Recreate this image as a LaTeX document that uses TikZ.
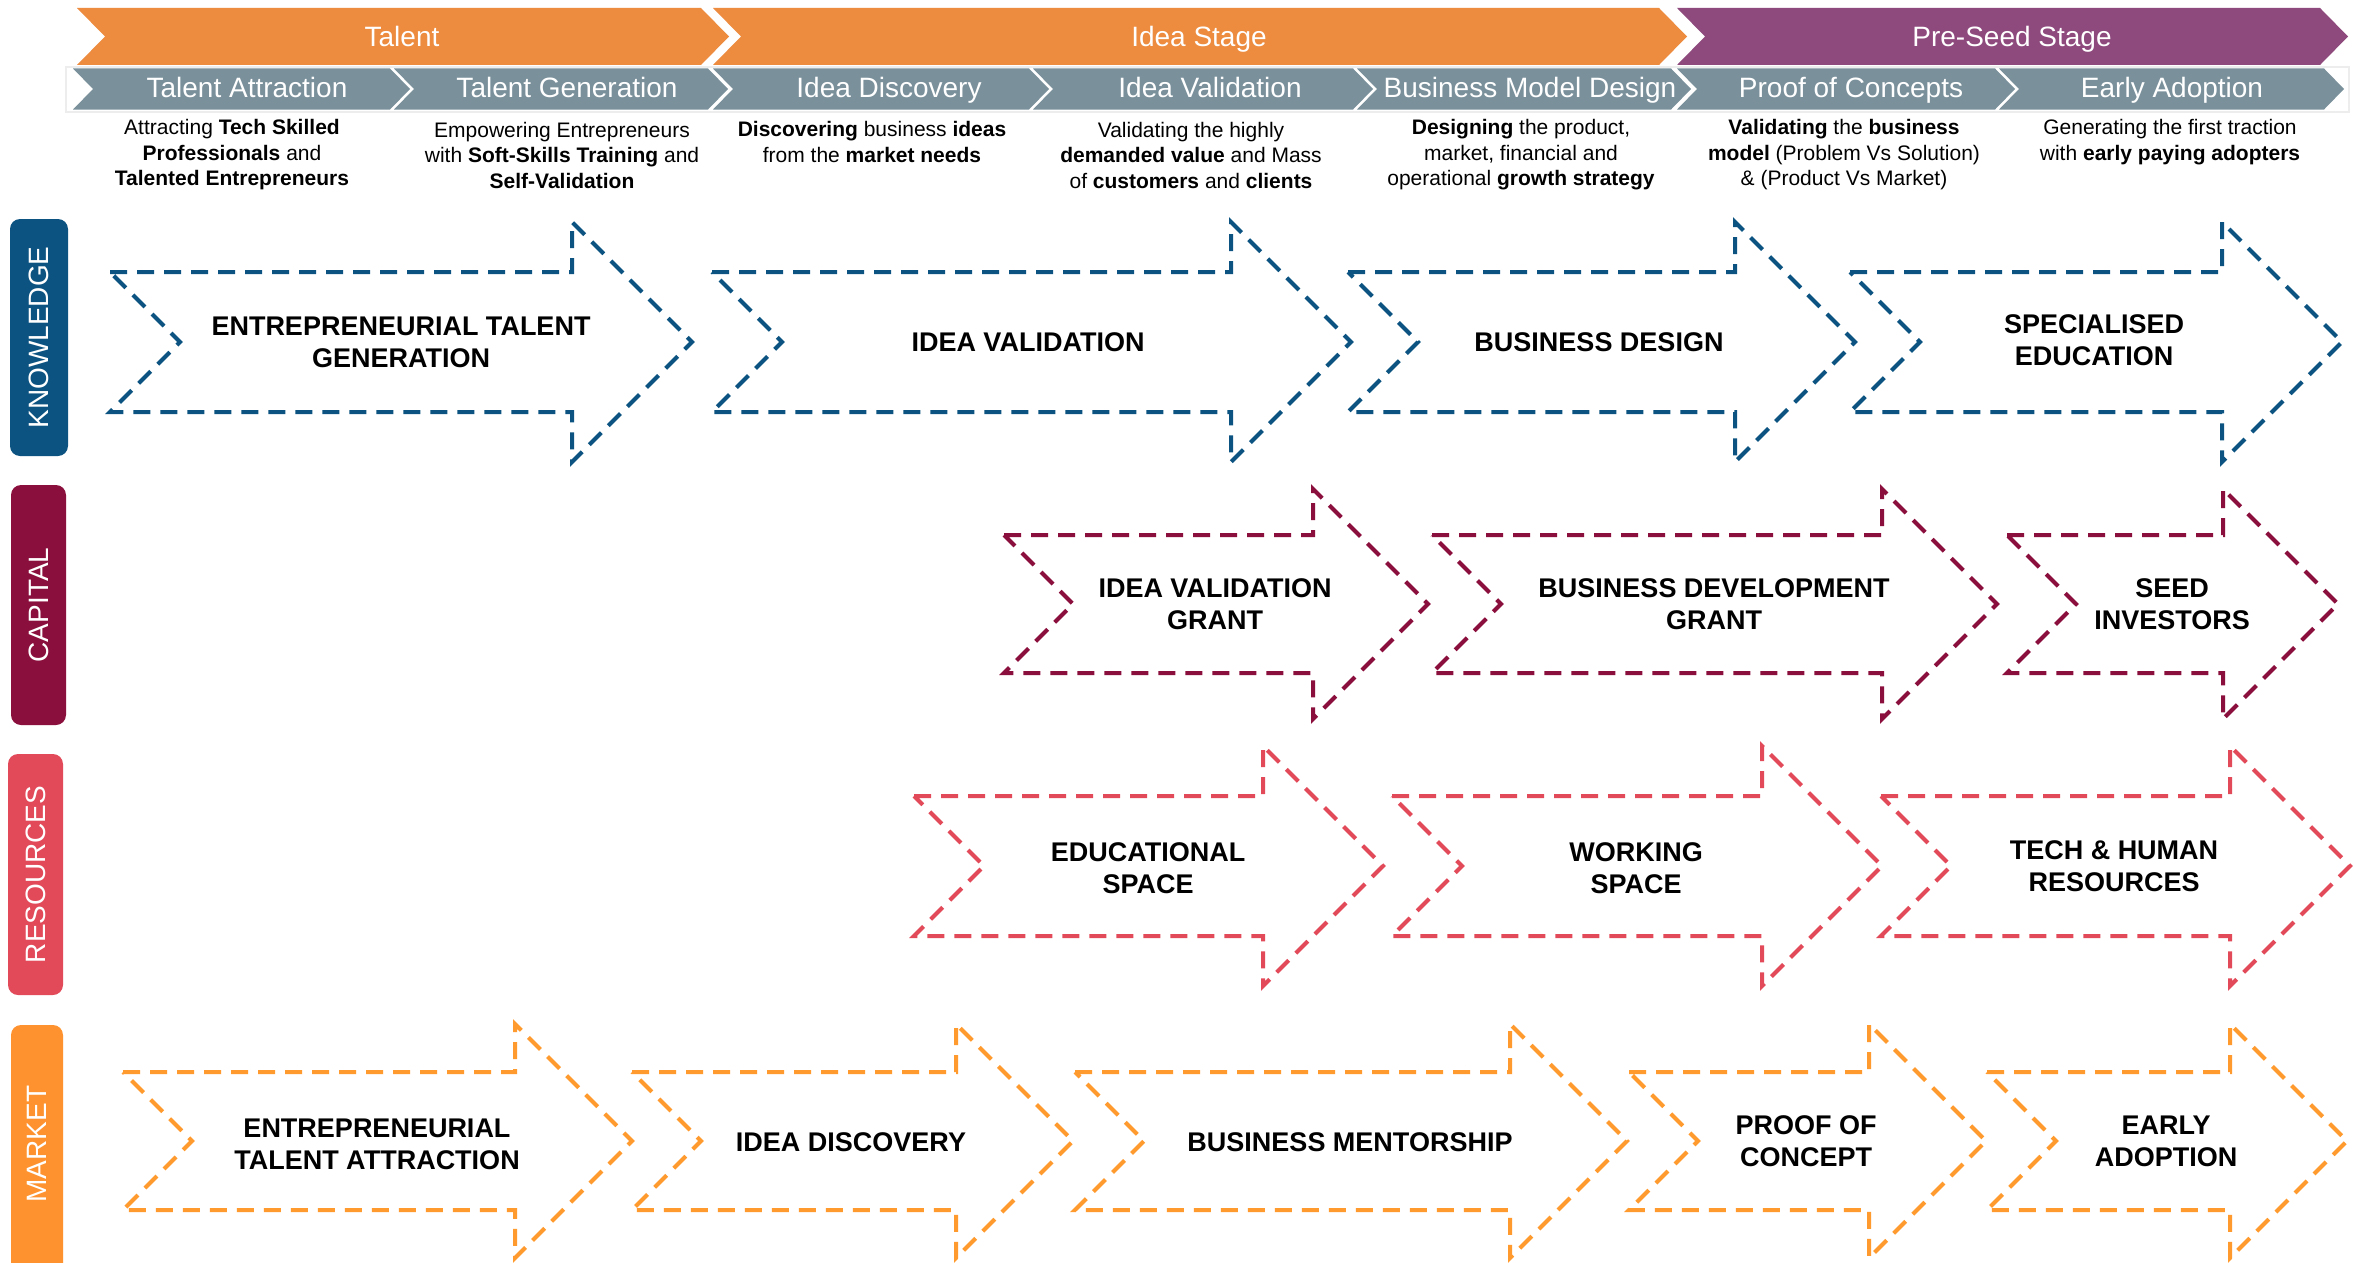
\documentclass[tikz,border=0pt]{standalone}
\usepackage{fontspec}
\setmainfont{Liberation Sans}
\definecolor{hdrorange}{HTML}{ED8B3E}
\definecolor{hdrpurple}{HTML}{8E497D}
\definecolor{hdrgrey}{HTML}{7A909B}
\definecolor{knowc}{HTML}{0C5381}
\definecolor{capc}{HTML}{8B0F3C}
\definecolor{resc}{HTML}{E24A5A}
\definecolor{mktc}{HTML}{FD922E}
\definecolor{mktd}{HTML}{FF9A2E}
\newcommand{\myarrow}[6]{%
  \draw[dasharrow,#1] (#2,#4-#5) -- (#3,#4-#5) -- (#3,#4-#6) -- (#3+#6,#4) -- (#3,#4+#6) -- (#3,#4+#5) -- (#2,#4+#5) -- (#2+#5,#4) -- cycle;}
\newcommand{\mychev}[6]{%
  \fill[#1] (#2,#4-#5) -- (#3,#4-#5) -- (#3+#6,#4) -- (#3,#4+#5) -- (#2,#4+#5) -- (#2+#6,#4) -- cycle;}
\begin{document}
\begin{tikzpicture}[x=1pt,y=-1pt,
  dasharrow/.style={line width=4pt, dash pattern=on 17pt off 10pt, line join=miter},
  desc/.style={font=\fontsize{21}{25.5}\selectfont, align=center, inner sep=0pt, text=black},
  lab/.style={font=\fontsize{27}{32}\selectfont\bfseries, align=center, inner sep=0pt, text=black},
  hdr/.style={font=\fontsize{28}{33}\selectfont, text=white, inner sep=0pt, anchor=base},
  side/.style={font=\fontsize{28}{33}\selectfont, text=white, rotate=90, inner sep=0pt}]
\useasboundingbox (0,0) rectangle (2354,1263);
\fill[white] (0,0) rectangle (2354,1263);

% ---------- header row 1 ----------
\mychev{hdrorange}{77}{701}{36.5}{28.5}{28}
\mychev{hdrorange}{713}{1659}{36.5}{28.5}{28}
\mychev{hdrpurple}{1677}{2320}{36.5}{28.5}{28}
\node[hdr] (h1) at (402,47) {Talent};
\node[hdr] (h2) at (1199,47) {Idea Stage};
\node[hdr] (h3) at (2012,47) {Pre-Seed Stage};

% ---------- header row 2 ----------
\draw[black!7, line width=1.5pt] (66,67) rectangle (2349,112);
\mychev{hdrgrey}{73}{390}{89}{20.5}{20}
\mychev{hdrgrey}{394}{708}{89}{20.5}{20}
\mychev{hdrgrey}{713}{1029}{89}{20.5}{20}
\mychev{hdrgrey}{1033}{1353}{89}{20.5}{20}
\mychev{hdrgrey}{1357}{1671}{89}{20.5}{20}
\mychev{hdrgrey}{1677}{1995}{89}{20.5}{20}
\mychev{hdrgrey}{1999}{2324}{89}{20.5}{20}
\node[hdr] (s1) at (247,98) {Talent Attraction};
\node[hdr] (s2) at (567,98) {Talent Generation};
\node[hdr] (s3) at (889,98) {Idea Discovery};
\node[hdr] (s4) at (1210,98) {Idea Validation};
\node[hdr] (s5) at (1530,98) {Business Model Design};
\node[hdr] (s6) at (1851,98) {Proof of Concepts};
\node[hdr] (s7) at (2172,98) {Early Adoption};

% ---------- descriptions ----------
\node[desc] (d1) at (232,155) {Attracting \textbf{Tech Skilled}\\\textbf{Professionals} and\\\textbf{Talented Entrepreneurs}};
\node[desc] (d2) at (562,155) {Empowering Entrepreneurs\\with \textbf{Soft-Skills Training} and\\\textbf{Self-Validation}};
\node[desc] (d3) at (872,142) {\textbf{Discovering} business \textbf{ideas}\\from the \textbf{market needs}};
\node[desc] (d4) at (1191,155) {Validating the highly\\\textbf{demanded value} and Mass\\of \textbf{customers} and \textbf{clients}};
\node[desc] (d5) at (1521,155) {\textbf{Designing} the product,\\market, financial and\\operational \textbf{growth strategy}};
\node[desc] (d6) at (1844,155) {\textbf{Validating} the \textbf{business}\\\textbf{model} (Problem Vs Solution)\\\& (Product Vs Market)};
\node[desc] (d7) at (2170,142) {Generating the first traction\\with \textbf{early paying adopters}};

% ---------- side labels ----------
\begin{scope}
\clip (0,0) rectangle (2354,1263);
\fill[knowc, rounded corners=10pt] (10,219) rectangle (68,456);
\fill[capc, rounded corners=10pt] (11,485) rectangle (66,725);
\fill[resc, rounded corners=10pt] (8,754) rectangle (63,995);
\fill[mktc, rounded corners=10pt] (11,1025) rectangle (63,1290);
\end{scope}
\node[side] (kn) at (39,337.5) {KNOWLEDGE};
\node[side] (ca) at (38.5,605) {CAPITAL};
\node[side] (re) at (35.5,874.5) {RESOURCES};
\node[side] (ma) at (37,1144) {MARKET};

% ---------- knowledge arrows ----------
\myarrow{knowc}{110}{572}{342}{70}{120}
\myarrow{knowc}{712}{1231}{342}{70}{120}
\myarrow{knowc}{1348}{1735}{342}{70}{120}
\myarrow{knowc}{1850}{2222}{342}{70}{120}
\node[lab] (k1) at (401,342) {ENTREPRENEURIAL TALENT\\GENERATION};
\node[lab] (k2) at (1028,342) {IDEA VALIDATION};
\node[lab] (k3) at (1599,342) {BUSINESS DESIGN};
\node[lab] (k4) at (2094,340) {SPECIALISED\\EDUCATION};

% ---------- capital arrows ----------
\myarrow{capc}{1004}{1313}{604}{69}{115}
\myarrow{capc}{1432}{1882}{604}{69}{115}
\myarrow{capc}{2007}{2223}{604}{69}{115}
\node[lab] (c1) at (1215,604) {IDEA VALIDATION\\GRANT};
\node[lab] (c2) at (1714,604) {BUSINESS DEVELOPMENT\\GRANT};
\node[lab] (c3) at (2172,604) {SEED\\INVESTORS};

% ---------- resources arrows ----------
\myarrow{resc}{914}{1263}{866}{70}{120}
\myarrow{resc}{1392}{1762}{866}{70}{120}
\myarrow{resc}{1881}{2230}{866}{70}{120}
\node[lab] (r1) at (1148,868) {EDUCATIONAL\\SPACE};
\node[lab] (r2) at (1636,868) {WORKING\\SPACE};
\node[lab] (r3) at (2114,866) {TECH \& HUMAN\\RESOURCES};

% ---------- market arrows ----------
\myarrow{mktd}{123}{515}{1141}{69}{117}
\myarrow{mktd}{632}{956}{1141}{69}{117}
\myarrow{mktd}{1075}{1510}{1141}{69}{117}
\myarrow{mktd}{1629}{1869}{1141}{69}{117}
\myarrow{mktd}{1987}{2230}{1141}{69}{117}
\node[lab] (m1) at (377,1144) {ENTREPRENEURIAL\\TALENT ATTRACTION};
\node[lab] (m2) at (851,1142) {IDEA DISCOVERY};
\node[lab] (m3) at (1350,1142) {BUSINESS MENTORSHIP};
\node[lab] (m4) at (1806,1141) {PROOF OF\\CONCEPT};
\node[lab] (m5) at (2166,1141) {EARLY\\ADOPTION};
\end{tikzpicture}
\end{document}
